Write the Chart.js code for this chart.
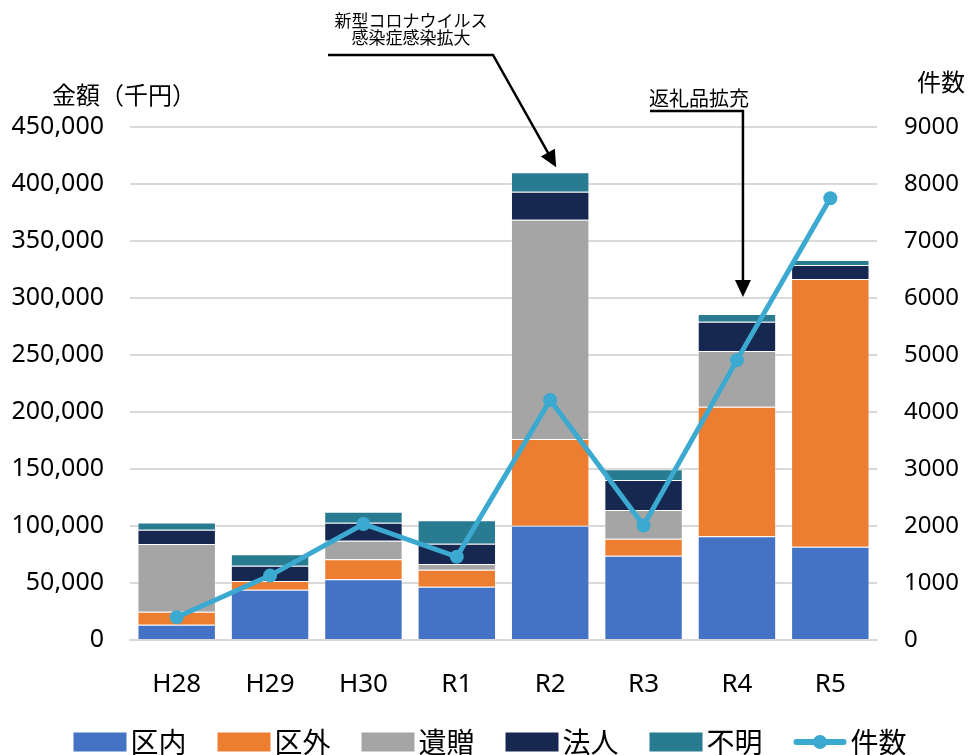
<!DOCTYPE html>
<html>
<head>
<meta charset="utf-8">
<script src="https://cdn.jsdelivr.net/npm/chart.js@4/dist/chart.umd.min.js"></script>
<style>
  body { margin: 0; background: #fff; }
  #wrap { width: 972px; height: 755px; }
</style>
</head>
<body>
<div id="wrap"><canvas id="furusatoChart" width="972" height="755"></canvas></div>
<script>
// 年度
var years = ['H28', 'H29', 'H30', 'R1', 'R2', 'R3', 'R4', 'R5'];
// 金額（千円）
var kunai  = [13400, 44100, 53200, 46800, 100300, 73900, 91000, 81800];
var kugai  = [11400, 7700, 17600, 14900, 76000, 15000, 113700, 234900];
var izo    = [59400, 0, 16300, 5000, 192400, 25100, 48800, 0];
var hojin  = [12600, 13400, 15800, 17800, 24600, 26400, 25700, 12300];
var fumei  = [6200, 10000, 9600, 20500, 16900, 9300, 6800, 4300];
// 件数
var kensu  = [400, 1130, 2035, 1460, 4210, 2010, 4910, 7750];

var leftMax = 450000, leftStep = 50000;
var rightMax = 9000, rightStep = 1000;

var COLORS = ['#4472C4', '#ED7D31', '#A5A5A5', '#162850', '#287B91'];
var LINE_COLOR = '#3BA9D0';
var JP = '"Noto Sans CJK JP", "Noto Sans", sans-serif';
var NUM = '"Noto Sans", "Open Sans", sans-serif';

function total(i) {
    return kunai[i] + kugai[i] + izo[i] + hojin[i] + fumei[i];
}

function barSet(label, data, color) {
    return {type: 'bar', label: label, data: data, backgroundColor: color,
            borderColor: 'rgba(255,255,255,0.35)', borderWidth: 1,
            stack: 's', yAxisID: 'y', order: 1,
            barPercentage: 0.84, categoryPercentage: 1.0};
}

function arrowHead(ctx, x, y, ang) {
    var len = 17, w = 8;
    ctx.beginPath();
    ctx.moveTo(x, y);
    ctx.lineTo(x - len * Math.cos(ang) + w * Math.sin(ang), y - len * Math.sin(ang) - w * Math.cos(ang));
    ctx.lineTo(x - len * Math.cos(ang) - w * Math.sin(ang), y - len * Math.sin(ang) + w * Math.cos(ang));
    ctx.closePath();
    ctx.fill();
}

// legend: bars first, line last
var legendOrder = [1, 2, 3, 4, 5, 0];

// 軸タイトル・注記・凡例
var extras = {
    id: 'extras',
    afterDraw: function (chart) {
        var ctx = chart.ctx, xs = chart.scales.x, ys = chart.scales.y;
        ctx.save();
        ctx.fillStyle = '#000';
        ctx.textBaseline = 'middle';

        // axis titles
        ctx.font = '24px ' + JP;
        ctx.textAlign = 'left';
        ctx.fillText('金額（千円）', 52, 95);
        ctx.fillText('件数', 917, 82);

        ctx.strokeStyle = '#000';
        ctx.lineWidth = 2.5;

        // 新型コロナ
        var t1x = xs.getPixelForValue(4) + 6, t1y = ys.getPixelForValue(total(4)) - 5;
        ctx.font = '17px ' + JP;
        ctx.textAlign = 'center';
        ctx.fillText('新型コロナウイルス', 411, 21);
        ctx.fillText('感染症感染拡大', 411, 38);
        ctx.beginPath();
        ctx.moveTo(328, 55);
        ctx.lineTo(493, 55);
        var ang = Math.atan2(t1y - 55, t1x - 493);
        ctx.lineTo(t1x - 12 * Math.cos(ang), t1y - 12 * Math.sin(ang));
        ctx.stroke();
        arrowHead(ctx, t1x, t1y, ang);

        // 返礼品拡充
        var t2x = xs.getPixelForValue(6) + 6, t2y = ys.getPixelForValue(total(6)) - 17;
        ctx.font = '20px ' + JP;
        ctx.fillText('返礼品拡充', 699, 98);
        ctx.beginPath();
        ctx.moveTo(650, 111);
        ctx.lineTo(t2x, 111);
        ctx.lineTo(t2x, t2y - 12);
        ctx.stroke();
        arrowHead(ctx, t2x, t2y, Math.PI / 2);

        // legend
        var items = legendOrder.map(function (k) { return chart.data.datasets[k]; });
        ctx.font = '28px ' + JP;
        ctx.textAlign = 'left';
        var boxW = 53, boxH = 19, gap = 4, spacing = 31, ly = 742;
        var widths = items.map(function (d) { return boxW + gap + ctx.measureText(d.label).width; });
        var full = widths.reduce(function (a, b) { return a + b; }, 0) + spacing * (items.length - 1);
        var lx = (972 - full) / 2 + 4;
        for (var i = 0; i < items.length; i++) {
            var d = items[i];
            if (d.type === 'line') {
                ctx.strokeStyle = d.borderColor;
                ctx.lineWidth = 6;
                ctx.lineCap = 'round';
                ctx.beginPath();
                ctx.moveTo(lx + 3, ly);
                ctx.lineTo(lx + boxW - 3, ly);
                ctx.stroke();
                ctx.fillStyle = d.borderColor;
                ctx.beginPath();
                ctx.arc(lx + boxW / 2, ly, 7, 0, Math.PI * 2);
                ctx.fill();
            } else {
                ctx.fillStyle = d.backgroundColor;
                ctx.fillRect(lx, ly - boxH / 2, boxW, boxH);
            }
            ctx.fillStyle = '#000';
            ctx.fillText(d.label, lx + boxW + gap, ly);
            lx += widths[i] + spacing;
        }
        ctx.restore();
    }
};

var chrtcfg = {
    data: {
        labels: years,
        datasets: [
            {type: 'line', label: '件数', data: kensu, yAxisID: 'y1', order: 0,
             borderColor: LINE_COLOR, backgroundColor: LINE_COLOR, borderWidth: 5,
             pointRadius: 7, pointBackgroundColor: LINE_COLOR, pointBorderWidth: 0,
             tension: 0},
            barSet('区内', kunai, COLORS[0]),
            barSet('区外', kugai, COLORS[1]),
            barSet('遺贈', izo, COLORS[2]),
            barSet('法人', hojin, COLORS[3]),
            barSet('不明', fumei, COLORS[4])
        ]
    },
    options: {
        responsive: false,
        animation: false,
        layout: {padding: {top: 127, bottom: 45, left: 0, right: 0}},
        plugins: {legend: {display: false}, tooltip: {enabled: false}},
        scales: {
            x: {
                stacked: true,
                grid: {display: false},
                border: {color: '#d9d9d9', width: 2},
                ticks: {color: '#000', font: {family: NUM, size: 26}, padding: 21},
                afterFit: function (s) { s.height = 70; }
            },
            y: {
                position: 'left', stacked: true, min: 0, max: leftMax,
                ticks: {stepSize: leftStep, color: '#000', padding: 26,
                        font: {family: NUM, size: 25},
                        callback: function (v) { return v.toLocaleString('en-US'); }},
                grid: {color: '#d9d9d9', lineWidth: 2, drawTicks: false},
                border: {display: false},
                afterFit: function (s) { s.width = 130; }
            },
            y1: {
                position: 'right', min: 0, max: rightMax,
                ticks: {stepSize: rightStep, color: '#000', padding: 27,
                        font: {family: NUM, size: 24},
                        callback: function (v) { return String(v); }},
                grid: {drawOnChartArea: false, drawTicks: false},
                border: {display: false},
                afterFit: function (s) { s.width = 95; }
            }
        }
    },
    plugins: [extras]
};

var furusatoChart = new Chart(document.getElementById('furusatoChart').getContext('2d'), chrtcfg);
</script>
</body>
</html>
